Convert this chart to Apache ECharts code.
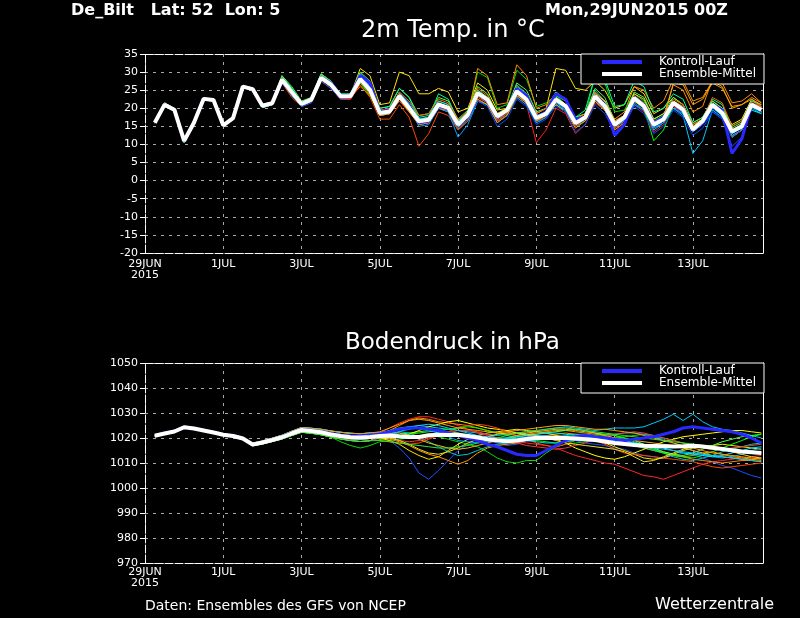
<!DOCTYPE html>
<html>
<head>
<meta charset="utf-8">
<script src="https://cdn.jsdelivr.net/npm/echarts@6/dist/echarts.min.js"></script>
<style>
  html, body { margin: 0; padding: 0; background: #000; }
  #chart { width: 800px; height: 618px; }
</style>
</head>
<body>
<div id="chart"></div>
<script>
// forecast hours after 29JUN2015 00Z
var hours = [6,12,18,24,30,36,42,48,54,60,66,72,78,84,90,96,102,108,114,120,126,132,138,144,150,156,162,168,174,180,186,192,198,204,210,216,222,228,234,240,246,252,258,264,270,276,282,288,294,300,306,312,318,324,330,336,342,348,354,360,366,372,378];
var tickLabels = ['29JUN\n2015','1JUL','3JUL','5JUL','7JUL','9JUL','11JUL','13JUL'];

// 2m temperature
var tempMean = [16,21,19.6,11,16,22.6,22.3,15.3,17.3,26,25.3,20.7,21.4, 27.9,24.5,21.2,22.4, 28.4,26.6,23.3,23.3, 28.1,25.1,18.7,19.1, 23.3,20.1,16.4,16.8, 21,20.1,15.5,18.2, 24.2,22.4,17.8,19.5, 24.7,22.4,17.3,18.5, 22.4,20.6,15.9,17.5, 23.3,20.6,15.5,17.5, 22.8,20.6,15.5,17, 21.5,19.6,14.1,16.5, 21,18.7,13.6,15, 21,19.6];
var tempCtrl = [16,21,19.6,11,16,22.6,22.3,15.3,17.3,26,25.3,20.7,21.4, 27.5,24.5,21,22.5, 28.5,27,23.5,23.5, 29,27,19,19.5, 23,20.5,16,16.5, 20.5,20,15.5,18, 24,22,17.5,19.5, 25.5,23.5,17.5,19, 24,22.5,17,17.5, 23.5,21,12.5,15.5, 23,21,16,17.5, 21.5,20,14,16, 21,19.5,7.5,11.5, 21,19.5];
var t01 = [16,21,19.6,11,16,22.6,22.3,15.3,17.3,26,25.3,20.7,21.4, 28.5,25,21.5,22.5, 29,27,23.5,23.5, 31,29,21,21.5, 30,29,24,24, 25.5,24.5,19,20, 27,25,19.5,20, 26,24,18.5,20, 31,30.5,25.5,25, 27.5,25,20,21, 26,24,18.5,20, 23,21,16,17.5, 22,20,15.5,17, 22.5,20.5];
var t02 = [16.1,21.5,19.9,11.5,16.3,22.8,22.6,15.6,17.5,26.2,25.6,21,21.7, 27.5,24,21,22, 28.5,26.5,23,23, 29.5,26,19,19.5, 24,21,17,17.5, 22,21,16,18.5, 25,23,18,19.5, 25.5,23,17.5,19, 23,21,16,18, 24,22,17,19, 26,25,20,22, 28,27.5,22,23, 27.5,26,20,21, 23,21.5];
var t03 = [15.9,20.5,19.3,10.5,15.8,22.3,22,15,17,25.8,25,20.2,21, 28.5,25.5,21.5,23, 29.5,27.5,23.5,23, 27,24,18,18.5, 22,19,16,16.5, 20.5,20,15,18, 30,28.5,20,21, 30.5,28,20.5,21.5, 23.5,21,16.5,18, 29,27,19,19.5, 24,22,16.5,18, 22,20,14.5,16.5, 21,19,13.5,15, 20.5,19.5];
var t04 = [16,21.2,19.8,10.8,16.1,22.5,22.4,15.4,17.2,26.1,25.2,20.5,21.3, 27,23.5,20.5,22, 28,26,22.5,23, 27.5,24.5,18,18.5, 22.5,19.5,15.5,16, 20,19,14,16.5, 22,21,16.5,18.5, 23.5,21.5,16,17.5, 21,19.5,15,16.5, 22,19.5,14.5,16.5, 21.5,19.5,14,16, 20,18,7.5,11, 19.5,17.5,12.5,14, 20,18.5];
var t05 = [15.9,20.5,19.3,10.5,15.8,22.3,22,15,17,25.8,25,20.2,21, 27,23,20.5,21.5, 27.5,25.5,22.5,22.5, 26.5,23,17,17, 21,17.5,9.5,13, 19,18,14,16.5, 23,21.5,17,18.5, 24,21.5,16.5,17.5, 22,20,15,17, 22.5,20,14.5,16.5, 22,20,15,16.5, 21,19.5,14,16, 20.5,18,13,15, 21.5,20];
var t06 = [16,21,19.6,11,16,22.6,22.3,15.3,17.3,26,25.3,20.7,21.4, 28,24.5,21,22.5, 28,26.5,23,23, 29.5,26.5,19.5,19.5, 24,21,17,17, 21.5,20.5,16,18, 23.5,22,17.5,19, 24,22,17,18.5, 21.5,20,15.5,17, 22.5,20.5,15.5,17.5, 21.5,19.5,14.5,16.5, 20.5,18.5,13.5,15.5, 19,17,9.5,12, 20.5,19];
var t07 = [16.1,21.5,19.9,11.5,16.3,22.8,22.6,15.6,17.5,26.2,25.6,21,21.7, 28,25,21.5,22.5, 28.5,26.5,23.5,23.5, 28,25,19,19.5, 23.5,20.5,16.5,17, 21,20,15.5,18.5, 24,22.5,18,20, 26.5,24,18,19, 23,21,16.5,18, 25,22,16,18, 23,21,16,17.5, 21,19,13.5,16, 21.5,19.5,14,15.5, 21,20];
var t08 = [16,21.2,19.8,10.8,16.1,22.5,22.4,15.4,17.2,26.1,25.2,20.5,21.3, 29,26,22,23, 29.5,27,23.5,24, 30,27.5,20,20.5, 25.5,23,18,18.5, 23,22,17,19.5, 26,24,18.5,20, 27,25,19,20, 24.5,22.5,17.5,18.5, 25.5,23,16.5,18, 24.5,23,17,18.5, 23,21,15.5,17, 22,20,14.5,16, 21.5,20];
var t09 = [15.9,20.5,19.3,10.5,15.8,22.3,22,15,17,25.8,25,20.2,21, 27.5,24,21,22, 28,26,23,23, 28.5,25.5,18.5,19, 23,20,16,16.5, 20.5,19.5,15,17.5, 23.5,21.5,17,19, 24,22,17,18, 22,20,15.5,17, 23,20.5,15,17, 22.5,20.5,15,17, 21,19,13.5,16, 20.5,18,12,14, 20.5,19];
var t10 = [16,21,19.6,11,16,22.6,22.3,15.3,17.3,26,25.3,20.7,21.4, 27,24,21,22, 27.5,25.5,22.5,22.5, 27,24.5,18,18.5, 22,19,15.5,16, 20,19,14.5,17, 22.5,21,16.5,18, 23,21,10.5,14, 20,18.5,13,15.5, 21.5,19.5,14,16, 21,19,13.5,15.5, 20.5,19,13.5,16, 20.5,18.5,13,15, 22,20.5];
var t11 = [16.1,21.5,19.9,11.5,16.3,22.8,22.6,15.6,17.5,26.2,25.6,21,21.7, 28.5,25,21,22.5, 29.5,27.5,23.5,23, 28.5,25.5,18.5,19, 23.5,20.5,16,16.5, 21,20,15,18, 31,29,21,21.5, 32,29,20,21, 24,22,17,18.5, 24.5,22,16.5,18, 23,21,16,17.5, 26.5,25,19,20.5, 28,27,21.5,22, 24,21.5];
var t12 = [15.9,20.5,19.3,10.5,15.8,22.3,22,15,17,25.8,25,20.2,21, 27.5,24,20.5,22, 28,26,23,23, 28,24.5,18,18.5, 23,20,15,15.5, 20,19,12,15.5, 22,21,16,18, 23,21,16,17.5, 21.5,19.5,15.5,17, 22,20,15,16.5, 21,19.5,14.5,16, 20,18.5,13.5,15.5, 20,18,13,14.5, 20.5,19];
var t13 = [16,21.2,19.8,10.8,16.1,22.5,22.4,15.4,17.2,26.1,25.2,20.5,21.3, 28,25,21.5,22.5, 29,27,23.5,23.5, 27,23.5,18.5,19, 23,19.5,16,16.5, 20.5,19.5,15,17.5, 24,22.5,18.5,20, 25,23,18,19, 22.5,20.5,16,17.5, 23.5,21,15.5,17.5, 22,20,11,14, 21,19,14,16.5, 20.5,18.5,13.5,15, 20,19];
var t14 = [16,21,19.6,11,16,22.6,22.3,15.3,17.3,26,25.3,20.7,21.4, 28,25,21.5,22.5, 28.5,27,23.5,23, 29,26,19,19.5, 24,21.5,17.5,18, 22,21,16.5,19, 24.5,22.5,18,19.5, 25,22.5,17.5,18.5, 22.5,20.5,16,17.5, 23,20.5,15,17, 22.5,20.5,15,16.5, 21.5,19.5,14.5,16, 20.5,18,13,15, 19.5,18.5];
var t15 = [16.1,21.5,19.9,11.5,16.3,22.8,22.6,15.6,17.5,26.2,25.6,21,21.7, 27.5,24.5,21,22, 28,26,23,23.5, 28.5,25,18.5,19, 24,21,16.5,17, 21.5,20.5,16,18.5, 24.5,22.5,18,19.5, 25,23,17.5,19, 23,21,16,18, 24,22,16,18, 24,22.5,17,18.5, 22,20.5,15,17, 21,19,12,14, 20.5,19];
var t16 = [16,21.2,19.8,10.8,16.1,22.5,22.4,15.4,17.2,26.1,25.2,20.5,21.3, 28,24.5,21,22, 28.5,26.5,23,23, 28.5,25.5,19,19, 23.5,20.5,16.5,17, 21,20,15.5,18, 24.5,22.5,18,19.5, 24.5,22,17,18.5, 22,20,15.5,17, 23,20.5,15.5,17.5, 22.5,20,15,17, 21,19,14,16, 21,18.5,14,15.5, 21.5,20];
var t17 = [15.9,20.5,19.3,10.5,15.8,22.3,22,15,17,25.8,25,20.2,21, 29,25.5,21.5,23, 29.5,27.5,24,24, 29.5,27,20,20.5, 25.5,23,17,17.5, 24,22.5,16.5,19, 25,23,18.5,20, 24.5,22.5,17.5,19, 23.5,22,17.5,19.5, 29,28,20.5,21, 27.5,26,19,20, 24,22.5,16,17.5, 22.5,21,15,16.5, 22,21];
var t18 = [16,21,19.6,11,16,22.6,22.3,15.3,17.3,26,25.3,20.7,21.4, 27.5,24.5,21,22, 28,26,23,23, 27.5,24,18,18.5, 22.5,19,15.5,16, 20,19.5,14.5,17, 22.5,21,16,18, 23.5,21.5,16.5,18, 21,19,14.5,16.5, 22,19.5,14,16, 22,20.5,15,17, 27,26.5,21,22.5, 27,25.5,20.5,21, 22.5,21];
var t19 = [16.1,21.5,19.9,11.5,16.3,22.8,22.6,15.6,17.5,26.2,25.6,21,21.7, 27,24,20.5,21.5, 27.5,25.5,22.5,23, 28.5,26,19,19, 24.5,21.5,16,16.5, 20.5,19.5,14.5,17, 22,20.5,15,17, 22.5,20.5,15.5,17, 20.5,19,13.5,15.5, 21,18.5,13.5,15.5, 20.5,18.5,13,15, 19.5,17.5,12.5,14.5, 19,17.5,12,14, 20,19];
var t20 = [16,21.2,19.8,10.8,16.1,22.5,22.4,15.4,17.2,26.1,25.2,20.5,21.3, 28.5,25,21,22.5, 29,27,23,23, 26,23.5,19.5,20, 24.5,22,18,18.5, 22.5,21.5,17,19, 25.5,23.5,18.5,20, 25.5,23.5,18.5,20, 24,22,16.5,18, 23.5,21,16,18, 23.5,21.5,16,17.5, 22.5,21,15.5,17, 23,21.5,15,16.5, 21.5,20.5];

// surface pressure
var presMean = [1020.9,1021.8,1022.6,1024.3,1023.8,1023,1022.2,1021.3,1020.8,1019.8,1017.4,1018.2,1019.2,1020.3,1021.8,1023.2,1022.8,1022.3,1021.4,1020.8,1020.3,1020.2,1020.4,1020.8,1021,1020.6,1020.4,1020.4,1021.1,1021.3,1021.2,1021.3,1020.8,1020.2,1019.5,1019,1018.7,1019,1019.6,1020,1020.1,1020,1020,1019.8,1019.5,1019.2,1018.6,1018,1017.6,1017.2,1016.9,1016.8,1016.7,1016.6,1016.7,1016.9,1016.6,1016.1,1015.6,1015.1,1014.6,1014.3,1014];
var presCtrl = [1021,1021.9,1022.7,1024.4,1023.9,1023.1,1022.3,1021.4,1020.9,1019.9,1017.5,1018.3,1019.3,1020.5,1022,1023.5,1023.1,1022.6,1021.8,1021.2,1020.8,1020.8,1021.2, 1021.5,1022.5,1023.5,1024,1024, 1023.5,1023,1022,1021, 1020,1019,1017.5,1016.5, 1015,1013.5,1013,1013, 1015,1017,1019,1020.5, 1021,1020.5,1020,1019.5, 1019,1019.5,1020,1020.5, 1021.5,1022.5,1024,1024.5, 1024,1023.5,1023,1022.5, 1021.5,1020,1018];
var p01 = [1020.8,1021.7,1022.5,1024.1,1023.6,1022.8,1021.9,1021,1020.5,1019.4,1016.9,1017.6,1018.6,1019.6,1021,1022.3,1021.9,1021.3,1020.4,1019.6,1019,1018.6,1018.9, 1020.2,1019,1016,1012,1006, 1003.5,1007,1011,1015, 1017.5,1018.5,1019,1018, 1017,1017.5,1018.5,1019.5, 1020.5,1021,1020,1019, 1018,1017.5,1017,1016, 1015.5,1014,1013,1012.5, 1012,1013,1014,1013.5, 1012,1010.5,1009,1008, 1006.5,1005,1004];
var p02 = [1021,1022,1022.8,1024.5,1024,1023.2,1022.5,1021.6,1021.2,1020.2,1017.9,1018.8,1019.9,1021.1,1022.7,1024.2,1023.9,1023.5,1022.8,1022.3,1021.9,1021.7,1022, 1021.5,1022.5,1023.5,1024.5,1025, 1024.5,1024,1023.5,1023, 1022.5,1022,1021.5,1021, 1021.5,1022,1022.5,1023, 1023.5,1024,1024.5,1024, 1023.5,1023,1023.5,1024, 1024,1024,1024.5,1026, 1027.5,1029.5,1027,1029.5, 1026.5,1024.5,1023.5,1023, 1022,1021,1020];
var p03 = [1020.9,1021.8,1022.6,1024.3,1023.8,1023,1022.1,1021.2,1020.7,1019.7,1017.2,1018,1019,1020.1,1021.6,1023,1022.5,1021.9,1021,1020.3,1019.7,1019.5,1019.8, 1020.5,1019.5,1018.5,1017,1015, 1013.5,1012.5,1011,1009.5, 1011,1014,1016,1017, 1017.5,1018,1019,1020, 1021,1021.5,1022,1021.5, 1020.5,1019.5,1018.5,1018, 1017.5,1017,1016,1015, 1014,1013,1012.5,1013, 1014,1014.5,1013.5,1012.5, 1012,1011.5,1011];
var p04 = [1020.8,1021.7,1022.5,1024.1,1023.6,1022.8,1021.9,1021,1020.5,1019.4,1016.9,1017.6,1018.6,1019.6,1021,1022.3,1021.9,1021.3,1020.4,1018.5,1017,1016,1017, 1018.5,1019,1019.5,1020,1020.5, 1021,1020.5,1019.5,1018.5, 1017.5,1016.5,1014.5,1012, 1010.5,1010,1011,1011, 1014,1016.5,1017.5,1018, 1018.5,1019,1019.5,1020, 1020.5,1021,1021.5,1021, 1020,1019,1018,1017.5, 1017,1016.5,1016,1015.5, 1015,1014.5,1014];
var p05 = [1020.9,1021.8,1022.7,1024.4,1023.9,1023.1,1022.3,1021.4,1020.9,1019.9,1017.6,1018.4,1019.5,1020.6,1022.2,1023.6,1023.3,1022.8,1022,1021.4,1021,1020.9,1021.2, 1020,1019,1017.5,1015,1013, 1011.5,1012.5,1015,1017.5, 1019.5,1021,1022,1022.5, 1023,1023.5,1023,1022.5, 1022,1021,1020.5,1020, 1019.5,1019,1018,1016.5, 1015,1013.5,1012,1011.5, 1012,1013.5,1015,1016, 1016.5,1017,1017.5,1017, 1016.5,1016,1015.5];
var p06 = [1021,1022,1022.8,1024.5,1024,1023.2,1022.5,1021.6,1021.2,1020.2,1017.9,1018.8,1019.9,1021.1,1022.7,1024.2,1023.9,1023.5,1022.8,1022.3,1021.9,1021.7,1022, 1022,1024,1026,1027.5,1028.5, 1028.5,1027.5,1026.5,1025, 1023.5,1022,1021,1020, 1019,1018.5,1018,1017.5, 1017,1016,1014.5,1013, 1012,1011,1010,1009.5, 1008,1006.5,1005,1004.5, 1003.5,1005,1006.5,1008, 1009.5,1010.5,1011,1011.5, 1012,1012.5,1013];
var p07 = [1020.9,1021.8,1022.7,1024.4,1023.9,1023.1,1022.3,1021.4,1020.9,1019.9,1017.6,1018.4,1019.5,1020.6,1022.2,1023.6,1023.3,1022.8,1022,1021.4,1021,1020.9,1021.2, 1021.5,1023,1025,1027,1028, 1027.5,1026.5,1026,1025.5, 1025,1024,1023,1022, 1021.5,1021,1021.5,1022, 1022.5,1023,1023,1022.5, 1022,1021.5,1021,1020, 1019,1018,1016.5,1015.5, 1014.5,1013.5,1012.5,1011.5, 1011,1010.5,1010,1010.5, 1011,1011,1010.5];
var p08 = [1020.9,1021.8,1022.6,1024.3,1023.8,1023,1022.1,1021.2,1020.7,1019.7,1017.2,1018,1019,1020.1,1021.6,1023,1022.5,1021.9,1021,1020.3,1019.7,1019.5,1019.8, 1020.5,1021,1021.5,1022,1022.5, 1023,1023,1022.5,1022, 1021,1020,1019.5,1019, 1019.5,1020.5,1021,1021.5, 1022,1022.5,1023,1023.5, 1023,1022,1021.5,1021, 1020,1019,1017.5,1016, 1014.5,1013.5,1013,1014, 1015.5,1017,1018.5,1019.5, 1020.5,1021,1021.5];
var p09 = [1020.8,1021.7,1022.5,1024.1,1023.6,1022.8,1021.9,1021,1020.5,1019.4,1016.9,1017.6,1018.6,1019.6,1021,1022.3,1021.9,1021.3,1020.4,1019.6,1019,1018.6,1018.9, 1021,1021.5,1022.5,1022,1020.5, 1018.5,1016.5,1014.5,1013, 1013.5,1015,1016.5,1017.5, 1018,1018.5,1019,1019.5, 1020,1020.5,1021,1021.5, 1021.5,1021,1020,1019, 1018,1017,1016,1015, 1014,1012.5,1011.5,1011, 1012,1013,1014.5,1015.5, 1016.5,1017.5,1018];
var p10 = [1020.9,1021.8,1022.7,1024.4,1023.9,1023.1,1022.3,1021.4,1020.9,1019.9,1017.6,1018.4,1019.5,1020.6,1022.2,1023.6,1023.3,1022.8,1022,1021.4,1021,1020.9,1021.2, 1019.5,1020,1020.5,1021.5,1023, 1024.5,1025.5,1026.5,1027, 1026,1025,1024,1023.5, 1023,1022,1021,1020.5, 1020,1019.5,1018,1016, 1014.5,1013,1012,1011.5, 1012.5,1014,1015.5,1017, 1018.5,1019.5,1020.5,1021, 1021.5,1022,1022.5,1023, 1023,1022.5,1022];
var p11 = [1020.9,1021.8,1022.6,1024.3,1023.8,1023,1022.1,1021.2,1020.7,1019.7,1017.2,1018,1019,1020.1,1021.6,1023,1022.5,1021.9,1021,1020.3,1019.7,1019.5,1019.8, 1019,1018.5,1018,1017.5,1018, 1019.5,1021,1022.5,1024, 1025,1025.5,1025,1024, 1022.5,1021,1019.5,1018, 1017,1016.5,1017.5,1019, 1020,1019,1017.5,1015.5, 1014,1013.5,1013,1012.5, 1012,1011.5,1011,1010.5, 1009.5,1008.5,1008,1008.5, 1009,1009.5,1010];
var p12 = [1021,1022,1022.8,1024.5,1024,1023.2,1022.5,1021.6,1021.2,1020.2,1017.9,1018.8,1019.9,1021.1,1022.7,1024.2,1023.9,1023.5,1022.8,1022.3,1021.9,1021.7,1022, 1021,1022,1022.5,1023.5,1024, 1023.5,1022,1020.5,1019, 1018.5,1018,1018.5,1019, 1019.5,1020,1020.5,1021, 1021,1020.5,1020,1019.5, 1019,1019.5,1020.5,1021.5, 1022,1022,1021.5,1020.5, 1019.5,1018,1016.5,1015, 1013.5,1012.5,1012,1012.5, 1013.5,1015,1016];
var p13 = [1020.9,1021.8,1022.7,1024.4,1023.9,1023.1,1022.3,1021.4,1020.9,1019.9,1017.6,1018.4,1019.5,1020.6,1022.2,1023.6,1023.3,1022.8,1022,1021.4,1021,1020.9,1021.2, 1020,1020.5,1021,1021.5,1022, 1022.5,1023,1023.5,1024, 1024.5,1024,1023,1022, 1021,1020,1019.5,1019, 1018.5,1018,1018.5,1019.5, 1020.5,1021,1021.5,1021, 1020,1018.5,1017,1015.5, 1014,1013,1012.5,1012, 1013,1014.5,1016,1017.5, 1019,1020.5,1021.5];
var p14 = [1020.8,1021.7,1022.5,1024.1,1023.6,1022.8,1021.9,1021,1020.5,1019.4,1016.9,1017.6,1018.6,1019.6,1021,1022.3,1021.9,1021.3,1020.4,1019.6,1019,1018.6,1018.9, 1021.5,1022,1022,1021,1019.5, 1018,1017,1016,1015.5, 1016,1017,1018,1019, 1020,1021,1022,1022.5, 1023,1023.5,1023.5,1023, 1022.5,1022,1021,1020, 1019.5,1019,1018.5,1018, 1017.5,1017,1016,1015, 1014,1013,1012.5,1012, 1011.5,1011.5,1012];
var p15 = [1021,1022,1022.8,1024.5,1024,1023.2,1022.5,1021.6,1021.2,1020.2,1017.9,1018.8,1019.9,1021.1,1022.7,1024.2,1023.9,1023.5,1022.8,1022.3,1021.9,1021.7,1022, 1022,1023,1024,1024.5,1024, 1023,1022,1021.5,1021, 1020.5,1020,1019.5,1019.5, 1020,1020.5,1021,1021.5, 1022,1022,1021.5,1021, 1020.5,1020,1019.5,1019, 1018.5,1018,1017.5,1017, 1016,1015,1014,1013.5, 1013,1012.5,1013,1014, 1015,1016,1016.5];
var p16 = [1020.9,1021.8,1022.6,1024.3,1023.8,1023,1022.1,1021.2,1020.7,1019.7,1017.2,1018,1019,1020.1,1021.6,1023,1022.5,1021.9,1021,1020.3,1019.7,1019.5,1019.8, 1020.5,1020,1019,1018.5,1019, 1020,1021,1022,1023, 1023,1022.5,1021.5,1020, 1019,1018,1017,1016.5, 1016,1015.5,1016,1017, 1018,1019.5,1020.5,1021.5, 1022,1022.5,1022,1021, 1020,1019,1018,1017, 1016,1015.5,1015.5,1016, 1016.5,1017,1017.5];
var p17 = [1020.9,1021.8,1022.7,1024.4,1023.9,1023.1,1022.3,1021.4,1020.9,1019.9,1017.6,1018.4,1019.5,1020.6,1022.2,1023.6,1023.3,1022.8,1022,1021.4,1021,1020.9,1021.2, 1020.5,1020,1019,1017.5,1015.5, 1014,1013.5,1014.5,1016, 1018,1019.5,1020.5,1021.5, 1022,1022,1021.5,1021, 1020,1019,1018,1017.5, 1017,1016.5,1016,1015.5, 1014.5,1012.5,1010.5,1011, 1012.5,1014,1015.5,1016.5, 1017,1016.5,1015.5,1014.5, 1013.5,1012.5,1012];
var p18 = [1021,1022,1022.8,1024.5,1024,1023.2,1022.5,1021.6,1021.2,1020.2,1017.9,1018.8,1019.9,1021.1,1022.7,1024.2,1023.9,1023.5,1022.8,1022.3,1021.9,1021.7,1022, 1022.5,1024,1025.5,1027,1027.5, 1027,1026,1025,1024, 1023.5,1023,1022.5,1022, 1022.5,1023,1023.5,1024, 1024.5,1025,1025,1024.5, 1024,1023.5,1023.5,1023, 1022.5,1022,1021,1020, 1019,1018,1017,1016, 1015,1014,1013.5,1013, 1012.5,1012,1011.5];
var p19 = [1020.9,1021.8,1022.6,1024.3,1023.8,1023,1022.1,1021.2,1020.7,1019.7,1017.2,1018,1019,1020.1,1021.6,1023,1022.5,1021.9,1021,1020.3,1019.7,1019.5,1019.8, 1020,1021,1022.5,1024,1025, 1025.5,1025,1024,1023, 1022,1021,1020.5,1020, 1020,1019.5,1019,1018.5, 1018,1018,1018.5,1019, 1019.5,1020,1020,1019.5, 1019,1018,1017,1016, 1015.5,1015,1014.5,1014, 1013.5,1013,1012.5,1012, 1011.5,1011,1010.5];
var p20 = [1020.8,1021.7,1022.5,1024.1,1023.6,1022.8,1021.9,1021,1020.5,1019.4,1016.9,1017.6,1018.6,1019.6,1021,1022.3,1021.9,1021.3,1020.4,1019.6,1019,1018.6,1018.9, 1019,1018.5,1018,1017.5,1017, 1016.5,1016,1016,1016.5, 1017,1018,1019,1020, 1021,1022,1022.5,1023, 1023.5,1024,1024,1023.5, 1023,1022.5,1022,1021.5, 1021,1020.5,1020,1019.5, 1019,1018.5,1018,1017.5, 1017,1016.5,1016,1015.5, 1015,1014.5,1014];

var tempMembers = [t01,t02,t03,t04,t05,t06,t07,t08,t09,t10,t11,t12,t13,t14,t15,t16,t17,t18,t19,t20];
var tempColors = ['#ffe600','#ff9600','#00dc00','#00c8ff','#ff4600','#1e50ff','#00c8c8','#50ff50','#f0b428','#ff1e1e','#ff8c00','#00a0ff','#00ff00','#00e6ff','#e6dc32','#5a3cff','#00ff96','#ffa000','#0050ff','#ff6400'];
var presMembers = [p01,p02,p03,p04,p05,p06,p07,p08,p09,p10,p11,p12,p13,p14,p15,p16,p17,p18,p19,p20];
var presColors = ['#1e50ff','#00c8ff','#ff9600','#00dc00','#ffe600','#ff2828','#ff8c00','#50ff50','#00c8c8','#ffff00','#ff4600','#00a0ff','#00ff00','#f0b428','#00e6ff','#f03c3c','#e6dc32','#ffa000','#00d2ff','#32e632'];
var ctrlColor = '#2828ff';

var FONT = 'DejaVu Sans';

function pairs(vals) {
  return hours.map(function (h, i) { return [h, vals[i]]; });
}
function line(name, vals, color, width, axis, z) {
  return {
    name: name, type: 'line', xAxisIndex: axis, yAxisIndex: axis,
    data: pairs(vals), showSymbol: false, symbol: 'none', color: color,
    lineStyle: { color: color, width: width }, z: z, silent: true, animation: false
  };
}
function bottomX(gi, margin) {
  return {
    type: 'value', gridIndex: gi, min: 0, max: 379, interval: 48,
    axisLine: { onZero: false, lineStyle: { color: '#fff', type: [8, 2] } },
    axisTick: { show: false },
    axisLabel: {
      color: '#fff', fontFamily: FONT, fontSize: 11, lineHeight: 11, margin: margin,
      showMaxLabel: false,
      formatter: function (v) { var i = v / 48; return (i % 1 === 0 && tickLabels[i]) ? tickLabels[i] : ''; }
    },
    splitLine: { lineStyle: { color: '#a8a8a8', type: [3, 5] } }
  };
}
function topX(gi) {
  return {
    type: 'value', gridIndex: gi, position: 'top', min: 0, max: 379,
    axisLine: { onZero: false, lineStyle: { color: '#fff', type: [8, 2] } },
    axisTick: { show: false }, axisLabel: { show: false }, splitLine: { show: false }
  };
}
function leftY(gi, min, max, step) {
  return {
    type: 'value', gridIndex: gi, min: min, max: max, interval: step,
    axisLine: { show: true, onZero: false, lineStyle: { color: '#fff', type: [8, 2] } },
    axisTick: { show: true, length: 5, lineStyle: { color: '#fff' } },
    axisLabel: { color: '#fff', fontFamily: FONT, fontSize: 11, margin: 7, formatter: function (v) { return String(v); } },
    splitLine: { lineStyle: { color: '#a8a8a8', type: [3, 5] } }
  };
}
function rightY(gi, min, max) {
  return {
    type: 'value', gridIndex: gi, position: 'right', min: min, max: max,
    axisLine: { show: true, onZero: false, lineStyle: { color: '#fff', width: 1 } },
    axisTick: { show: false }, axisLabel: { show: false }, splitLine: { show: false }
  };
}
function legendAt(top) {
  return {
    left: 581, top: top, orient: 'vertical', selectedMode: false,
    backgroundColor: '#000', borderColor: '#fff', borderWidth: 1, borderRadius: 0,
    padding: [2, 8, 4, 21], itemGap: 0, itemWidth: 40, itemHeight: 4,
    textStyle: { color: '#fff', fontFamily: FONT, fontSize: 12, lineHeight: 11, padding: [0, 0, 0, 12] },
    data: [{ name: 'Kontroll-Lauf', icon: 'rect' }, { name: 'Ensemble-Mittel', icon: 'rect' }]
  };
}

var series = [];
tempMembers.forEach(function (m, i) { series.push(line('T' + (i + 1), m, tempColors[i], 1, 0, 2)); });
series.push(line('Kontroll-Lauf', tempCtrl, ctrlColor, 3, 0, 3));
series.push(line('Ensemble-Mittel', tempMean, '#ffffff', 4, 0, 4));
presMembers.forEach(function (m, i) { series.push(line('P' + (i + 1), m, presColors[i], 1, 2, 2)); });
series.push(line('Kontroll-Lauf', presCtrl, ctrlColor, 3, 2, 3));
series.push(line('Ensemble-Mittel', presMean, '#ffffff', 4, 2, 4));

var chart = echarts.init(document.getElementById('chart'));
chart.setOption({
  backgroundColor: '#000',
  animation: false,
  title: [
    { text: 'De_Bilt   Lat: 52  Lon: 5', left: 71, top: 3, padding: 0, textStyle: { color: '#fff', fontFamily: FONT, fontSize: 16, fontWeight: 'bold' } },
    { text: 'Mon,29JUN2015 00Z', left: 545, top: 3, padding: 0, textStyle: { color: '#fff', fontFamily: FONT, fontSize: 16, fontWeight: 'bold' } },
    { text: '2m Temp. in °C', left: 361, top: 19, padding: 0, textStyle: { color: '#fff', fontFamily: FONT, fontSize: 24, fontWeight: 'normal' } },
    { text: 'Bodendruck in hPa', left: 345, top: 332, padding: 0, textStyle: { color: '#fff', fontFamily: FONT, fontSize: 23, fontWeight: 'normal' } },
    { text: 'Daten: Ensembles des GFS von NCEP', left: 145, top: 599, padding: 0, textStyle: { color: '#fff', fontFamily: FONT, fontSize: 14, fontWeight: 'normal' } },
    { text: 'Wetterzentrale', left: 655, top: 597, padding: 0, textStyle: { color: '#fff', fontFamily: FONT, fontSize: 16, fontWeight: 'normal' } }
  ],
  legend: [legendAt(54), legendAt(363)],
  grid: [
    { left: 145, top: 54, width: 618, height: 199 },
    { left: 145, top: 363, width: 618, height: 200 }
  ],
  xAxis: [bottomX(0, 6), topX(0), bottomX(1, 4), topX(1)],
  yAxis: [leftY(0, -20, 35, 5), rightY(0, -20, 35), leftY(1, 970, 1050, 10), rightY(1, 970, 1050)],
  series: series
});
</script>
</body>
</html>
